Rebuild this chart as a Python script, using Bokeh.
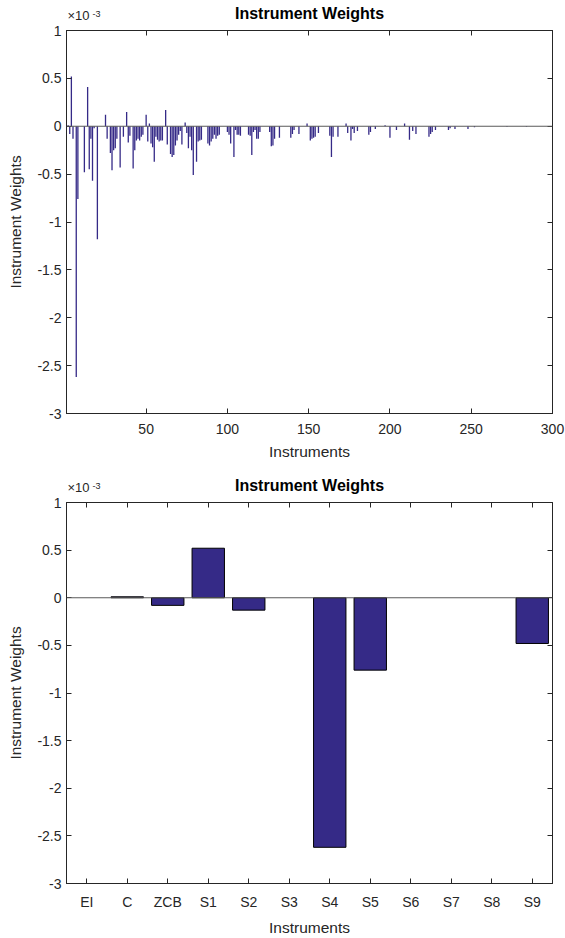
from bokeh.plotting import figure
from bokeh.layouts import column
from bokeh.models import Range1d, FactorRange, LinearAxis, CategoricalAxis, FixedTicker, Span
from bokeh.core.properties import value
from bokeh.embed import file_html
from bokeh.resources import INLINE

# ---------------- data (values in units of 1e-3) ----------------
instrument_idx = list(range(1, 301))
weights = [
    0.0, 0.01, -0.08, 0.52, -0.13, 0.0, -2.62, -0.76, 0.0, 0.0,
    0.0, -0.48, 0.0, 0.41, -0.45, -0.13, -0.57, -0.02, 0.0, -1.18,
    0.0, 0.0, 0.0, 0.0, 0.12, -0.13, 0.0, -0.28, -0.46, -0.25,
    -0.23, -0.13, 0.0, -0.43, 0.0, -0.11, 0.0, 0.15, -0.17, -0.1,
    0.0, -0.44, -0.25, -0.15, -0.13, -0.15, -0.11, -0.09, 0.0, 0.12,
    -0.16, 0.03, -0.18, -0.22, -0.37, -0.11, -0.14, -0.16, -0.15, -0.15,
    0.0, 0.17, -0.19, 0.0, -0.29, -0.32, -0.3, -0.2, -0.15, -0.09,
    -0.05, -0.19, 0.0, 0.04, -0.07, -0.23, -0.11, -0.25, -0.51, 0.0,
    -0.37, -0.16, -0.15, -0.14, 0.0, 0.0, 0.0, -0.18, -0.2, -0.16,
    -0.13, -0.09, -0.13, -0.1, -0.09, 0.0, 0.0, 0.0, 0.0, -0.06,
    -0.09, -0.18, 0.0, -0.32, -0.04, -0.09, -0.09, -0.1, 0.0, 0.0,
    0.0, 0.0, -0.09, -0.1, -0.3, -0.06, -0.04, -0.13, -0.13, -0.06,
    0.0, 0.0, 0.0, 0.0, 0.0, -0.06, -0.21, -0.2, -0.13, 0.0,
    0.0, -0.12, 0.0, 0.0, 0.0, 0.0, 0.0, 0.0, -0.12, -0.08,
    -0.04, 0.0, 0.0, -0.08, 0.0, 0.0, 0.0, 0.0, 0.03, 0.0,
    -0.15, -0.13, -0.12, -0.11, 0.0, -0.07, 0.0, 0.0, 0.0, 0.0,
    0.0, 0.0, -0.1, -0.32, -0.11, 0.0, 0.0, -0.11, 0.0, 0.0,
    0.0, 0.0, 0.03, -0.07, 0.0, -0.15, -0.03, -0.07, 0.0, -0.05,
    0.0, 0.0, 0.0, 0.0, 0.0, 0.0, -0.09, -0.06, 0.0, 0.0,
    -0.03, 0.0, 0.0, 0.0, 0.0, 0.0, 0.01, 0.0, 0.0, -0.12,
    0.0, 0.0, 0.0, -0.04, 0.0, 0.0, 0.0, 0.0, 0.03, 0.0,
    0.0, -0.14, 0.0, -0.05, 0.0, -0.08, 0.0, 0.0, 0.0, 0.0,
    0.0, 0.0, 0.0, -0.11, -0.08, -0.06, 0.0, -0.04, 0.0, 0.0,
    0.0, 0.0, 0.0, 0.0, 0.0, -0.04, -0.02, 0.0, 0.0, -0.03,
    0.0, 0.0, 0.0, 0.0, 0.0, 0.0, 0.0, -0.03, 0.0, 0.0,
    0.0, -0.01, 0.0, 0.0, 0.0, 0.0, 0.0, 0.0, 0.0, 0.0,
    0.0, 0.0, 0.0, 0.0, 0.0, 0.0, 0.0, 0.0, 0.0, 0.0,
    0.0, -0.005, 0.0, 0.0, 0.0, 0.0, 0.0, 0.0, 0.0, 0.0,
    0.0, 0.0, 0.0, -0.005, 0.0, 0.0, 0.0, 0.0, 0.0, 0.0,
    0.0, 0.0, 0.0, 0.0, 0.0, 0.0, 0.0, 0.0, 0.0, 0.0,
]

bucket_names = ["EI", "C", "ZCB", "S1", "S2", "S3", "S4", "S5", "S6", "S7", "S8", "S9"]
bucket_weights = [0.0, 0.01, -0.08, 0.52, -0.13, 0.0, -2.62, -0.76, 0.0, 0.0, 0.0, -0.48]

y_ticks = [-3, -2.5, -2, -1.5, -1, -0.5, 0, 0.5, 1]
y_tick_labels = ["-3", "-2.5", "-2", "-1.5", "-1", "-0.5", "0", "0.5", "1"]
x_ticks = [50, 100, 150, 200, 250, 300]

TITLE = "Instrument Weights"
XLABEL = "Instruments"
YLABEL = "Instrument Weights"
EXP_BASE = "\u00d710"
EXP_POW = "-3"

# ---------------- styling ----------------
FONT = "Liberation Sans"
AX = "#262626"
BAR = "#352A87"
W = 565
LEFT, RIGHT = 66, 13


def style_axis(ax, show_labels=True):
    ax.axis_line_color = AX
    ax.major_tick_line_color = AX
    ax.major_tick_in = 5
    ax.major_tick_out = 0
    ax.minor_tick_line_color = None
    ax.major_label_text_font = FONT
    ax.major_label_text_color = AX
    ax.axis_label_text_font = FONT
    ax.axis_label_text_font_size = "15.5px"
    ax.axis_label_text_font_style = "normal"
    ax.axis_label_text_color = AX
    if show_labels:
        ax.major_label_text_font_size = "14px"
    else:
        ax.major_label_text_font_size = "1px"
        ax.major_label_text_color = None
        ax.major_label_standoff = 0


def header(height, title_y):
    """Strip above a chart holding its title and the x10^-3 exponent note.
    Its frame is aligned with the chart frame, so x is in canvas pixels."""
    h = figure(width=W, height=height, x_range=Range1d(LEFT, W - RIGHT),
               y_range=Range1d(height, 0),
               output_backend="svg", toolbar_location=None, x_axis_type=None,
               y_axis_type=None, title_location=None,
               min_border_left=LEFT, min_border_right=RIGHT,
               min_border_top=0, min_border_bottom=0)
    h.outline_line_color = None
    h.background_fill_color = "white"
    h.border_fill_color = "white"
    h.text(x=[(LEFT + W - RIGHT) / 2], y=[title_y], text=[TITLE], text_align="center",
           text_baseline="middle", text_font=value(FONT), text_font_size="16px",
           text_font_style="bold", text_color="black")
    h.text(x=[LEFT + 1], y=[height], text=[EXP_BASE], text_align="left",
           text_baseline="bottom", text_font=value(FONT), text_font_size="13px",
           text_color=AX)
    h.text(x=[LEFT + 26], y=[height - 6], text=[EXP_POW], text_align="left",
           text_baseline="bottom", text_font=value(FONT), text_font_size="9px",
           text_color=AX)
    return h


def main_fig(x_range, height, bottom_border):
    p = figure(width=W, height=height, x_range=x_range, y_range=Range1d(-3, 1),
               output_backend="svg", toolbar_location=None, title_location=None,
               min_border_left=LEFT, min_border_right=RIGHT,
               min_border_top=8, min_border_bottom=bottom_border)
    p.xgrid.visible = False
    p.ygrid.visible = False
    p.outline_line_color = AX
    p.background_fill_color = "white"
    p.border_fill_color = "white"

    yax = p.yaxis[0]
    yax.ticker = FixedTicker(ticks=y_ticks)
    yax.major_label_overrides = {t: s for t, s in zip(y_ticks, y_tick_labels)}
    yax.axis_label = YLABEL
    yax.axis_label_standoff = 10
    yax.major_label_standoff = 5
    style_axis(yax)
    rax = LinearAxis(ticker=FixedTicker(ticks=y_ticks))
    style_axis(rax, show_labels=False)
    rax.major_label_overrides = {t: "" for t in y_ticks}
    p.add_layout(rax, "right")

    xax = p.xaxis[0]
    xax.axis_label = XLABEL
    xax.axis_label_standoff = 6
    xax.major_label_standoff = 10
    style_axis(xax)
    return p


# ---------------- top chart ----------------
h1 = header(22, 13)
p1 = main_fig(Range1d(1, 300), 445, 54)
p1.vbar(x=instrument_idx, top=weights, bottom=0, width=0.8, fill_color=BAR, line_color=None)
p1.xaxis[0].ticker = FixedTicker(ticks=x_ticks)
tax = LinearAxis(ticker=FixedTicker(ticks=x_ticks))
style_axis(tax, show_labels=False)
tax.major_label_overrides = {t: "" for t in x_ticks}
p1.add_layout(tax, "above")
p1.add_layout(Span(location=0, dimension="width", line_color="#5a5a5a", line_width=1.2,
                   level="overlay"))

# ---------------- bottom chart ----------------
h2 = header(27, 18)
p2 = main_fig(FactorRange(factors=bucket_names), 444, 51)
edge_colors = ["black" if w != 0 else None for w in bucket_weights]
p2.vbar(x=bucket_names, top=bucket_weights, bottom=0, width=0.8, fill_color=BAR,
        line_color=edge_colors, line_width=1)
tax2 = CategoricalAxis()
style_axis(tax2, show_labels=False)
tax2.major_label_overrides = {n: "" for n in bucket_names}
p2.add_layout(tax2, "above")
p2.add_layout(Span(location=0, dimension="width", line_color="#5a5a5a", line_width=1.2,
                   level="overlay"))

layout = column(h1, p1, h2, p2, spacing=0)
open("out.html", "w").write(file_html(layout, INLINE))
